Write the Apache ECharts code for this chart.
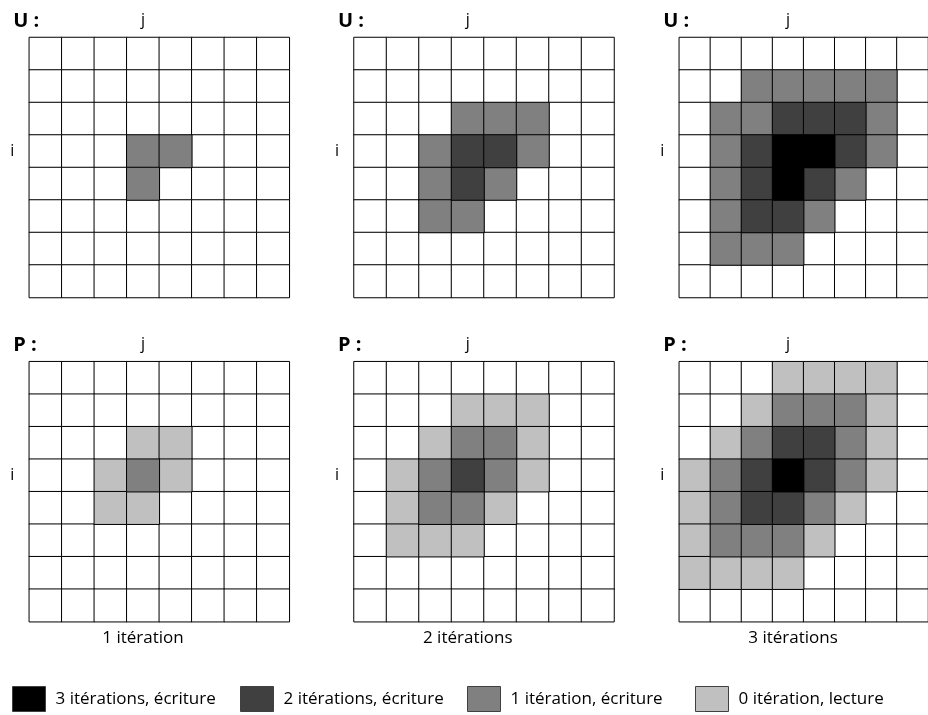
<!DOCTYPE html>
<html>
<head>
<meta charset="utf-8">
<script src="https://cdn.jsdelivr.net/npm/echarts@6/dist/echarts.min.js"></script>
<style>
html,body{margin:0;padding:0;background:#fff;}
#chart{width:928px;height:715px;}
</style>
</head>
<body>
<div id="chart"></div>
<script>
// ---- Data ----
// level codes: 0 = empty, 1 = read (0 itération), 2 = 1 itération, 3 = 2 itérations, 4 = 3 itérations
const columns = ['0','1','2','3','4','5','6','7'];
const rows = ['0','1','2','3','4','5','6','7'];
const levelNames = ['vide', '0 itération, lecture', '1 itération, écriture', '2 itérations, écriture', '3 itérations, écriture'];
const legendOrder = [4, 3, 2, 1];
const panelNames = ['U :', 'U :', 'U :', 'P :', 'P :', 'P :'];
const iterationLabels = ['1 itération', '2 itérations', '3 itérations'];

const U1 = [
  [0,0,0,0,0,0,0,0],
  [0,0,0,0,0,0,0,0],
  [0,0,0,0,0,0,0,0],
  [0,0,0,2,2,0,0,0],
  [0,0,0,2,0,0,0,0],
  [0,0,0,0,0,0,0,0],
  [0,0,0,0,0,0,0,0],
  [0,0,0,0,0,0,0,0]
];
const U2 = [
  [0,0,0,0,0,0,0,0],
  [0,0,0,0,0,0,0,0],
  [0,0,0,2,2,2,0,0],
  [0,0,2,3,3,2,0,0],
  [0,0,2,3,2,0,0,0],
  [0,0,2,2,0,0,0,0],
  [0,0,0,0,0,0,0,0],
  [0,0,0,0,0,0,0,0]
];
const U3 = [
  [0,0,0,0,0,0,0,0],
  [0,0,2,2,2,2,2,0],
  [0,2,2,3,3,3,2,0],
  [0,2,3,4,4,3,2,0],
  [0,2,3,4,3,2,0,0],
  [0,2,3,3,2,0,0,0],
  [0,2,2,2,0,0,0,0],
  [0,0,0,0,0,0,0,0]
];
const P1 = [
  [0,0,0,0,0,0,0,0],
  [0,0,0,0,0,0,0,0],
  [0,0,0,1,1,0,0,0],
  [0,0,1,2,1,0,0,0],
  [0,0,1,1,0,0,0,0],
  [0,0,0,0,0,0,0,0],
  [0,0,0,0,0,0,0,0],
  [0,0,0,0,0,0,0,0]
];
const P2 = [
  [0,0,0,0,0,0,0,0],
  [0,0,0,1,1,1,0,0],
  [0,0,1,2,2,1,0,0],
  [0,1,2,3,2,1,0,0],
  [0,1,2,2,1,0,0,0],
  [0,1,1,1,0,0,0,0],
  [0,0,0,0,0,0,0,0],
  [0,0,0,0,0,0,0,0]
];
const P3 = [
  [0,0,0,1,1,1,1,0],
  [0,0,1,2,2,2,1,0],
  [0,1,2,3,3,2,1,0],
  [1,2,3,4,3,2,1,0],
  [1,2,3,3,2,1,0,0],
  [1,2,2,2,1,0,0,0],
  [1,1,1,1,0,0,0,0],
  [0,0,0,0,0,0,0,0]
];
const matrices = [U1, U2, U3, P1, P2, P3];

// ---- Styles / layout ----
const levelColors = ['#ffffff', '#c0c0c0', '#808080', '#404040', '#000000'];
const gridLefts = [29.3, 354, 679.3];
const gridTops = [37.5, 361.7];
const gridSize = 260;
const cell = gridSize / 8;
const FONT = '"Open Sans", "Liberation Sans", sans-serif';

const grids = [], xAxes = [], yAxes = [], series = [], graphics = [];
matrices.forEach((m, g) => {
  const col = g % 3, row = Math.floor(g / 3);
  const left = gridLefts[col], top = gridTops[row];
  grids.push({ left: left, top: top, width: gridSize, height: gridSize, containLabel: false });
  xAxes.push({
    type: 'category', gridIndex: g, data: columns, position: 'top',
    axisLine: { show: false }, axisTick: { show: false }, splitLine: { show: false },
    axisLabel: { interval: 0, margin: 9, fontFamily: FONT, fontSize: 16, color: '#000',
      formatter: (v, i) => (i === 3 ? 'j' : '') }
  });
  yAxes.push({
    type: 'category', gridIndex: g, data: rows, inverse: true,
    axisLine: { show: false }, axisTick: { show: false }, splitLine: { show: false },
    axisLabel: { interval: 0, margin: 15, fontFamily: FONT, fontSize: 16, color: '#000',
      formatter: (v, i) => (i === 3 ? 'i' : '') }
  });
  for (let L = 0; L < levelColors.length; L++) {
    const data = [];
    m.forEach((r, ri) => r.forEach((v, ci) => { if (v === L) data.push([ci, ri, v]); }));
    series.push({
      type: 'heatmap', name: levelNames[L], xAxisIndex: g, yAxisIndex: g,
      data: data, silent: true,
      itemStyle: { color: levelColors[L], borderColor: '#000', borderWidth: 1 },
      emphasis: { disabled: true }
    });
  }
  graphics.push({
    type: 'text', left: left - 16, top: top - 26,
    style: { text: panelNames[g], font: 'bold 20px ' + FONT, fill: '#000' }
  });
  if (row === 1) {
    graphics.push({
      type: 'text', x: left + 3.5 * cell, y: top + gridSize + 16,
      style: { text: iterationLabels[col], font: '17px ' + FONT, fill: '#000', align: 'center', verticalAlign: 'middle' }
    });
  }
});

const legendLefts = [12, 240, 467, 695];
const legends = legendOrder.map((L, k) => ({
  data: [levelNames[L]], left: legendLefts[k], top: 686, orient: 'horizontal', padding: 0,
  icon: 'rect', itemWidth: 33, itemHeight: 25, selectedMode: false,
  itemStyle: { borderColor: '#404040', borderWidth: 1 },
  textStyle: { fontFamily: FONT, fontSize: 17, color: '#000', padding: [0, 0, 0, 5] }
}));

const chart = echarts.init(document.getElementById('chart'), null, { renderer: 'canvas' });
chart.setOption({
  animation: false,
  backgroundColor: '#ffffff',
  grid: grids,
  xAxis: xAxes,
  yAxis: yAxes,
  legend: legends,
  series: series,
  graphic: graphics
});
</script>
</body>
</html>
